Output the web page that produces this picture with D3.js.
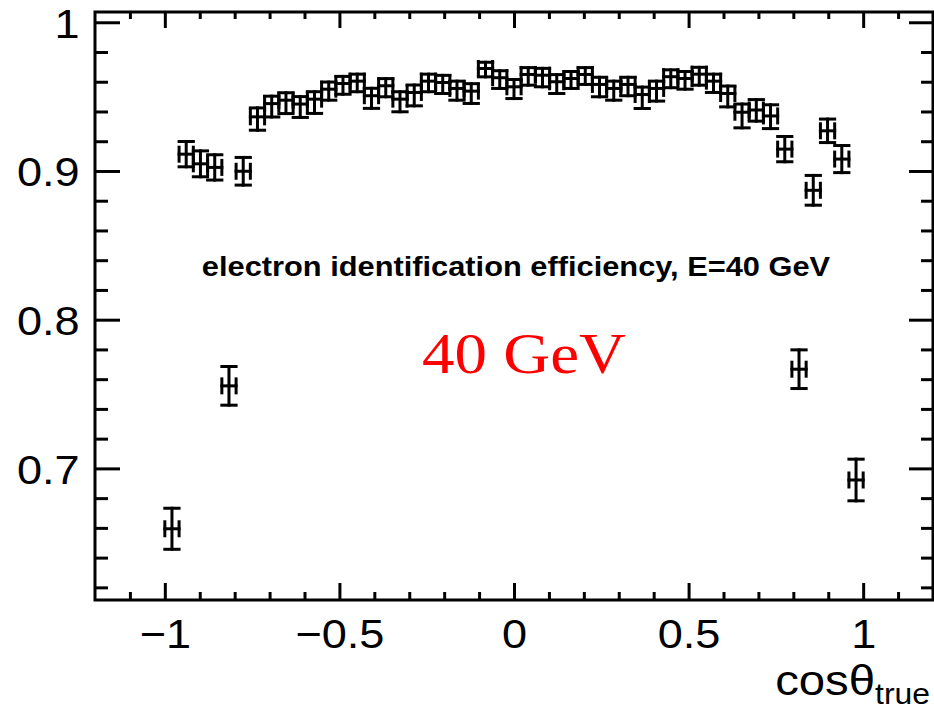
<!DOCTYPE html>
<html>
<head>
<meta charset="utf-8">
<script src="https://cdn.jsdelivr.net/npm/d3@7"></script>
<style>
  html, body { margin: 0; padding: 0; background: #fff; }
  svg { display: block; }
</style>
</head>
<body>
<svg id="chart" width="934" height="712"></svg>
<script>
// ---------------- data ----------------
const cosTheta = [
  -0.9796, -0.9388, -0.8980, -0.8571, -0.8163, -0.7755, -0.7347, -0.6939, -0.6531, -0.6122,
  -0.5714, -0.5306, -0.4898, -0.4490, -0.4082, -0.3673, -0.3265, -0.2857, -0.2449, -0.2041,
  -0.1633, -0.1224, -0.0816, -0.0408, 0.0000, 0.0408, 0.0816, 0.1224, 0.1633, 0.2041,
  0.2449, 0.2857, 0.3265, 0.3673, 0.4082, 0.4490, 0.4898, 0.5306, 0.5714, 0.6122,
  0.6531, 0.6939, 0.7347, 0.7755, 0.8163, 0.8571, 0.8980, 0.9388, 0.9796
];
const efficiency = [
  0.6594, 0.9113, 0.9048, 0.9024, 0.7555, 0.8998, 0.9364, 0.9453, 0.9476, 0.9450,
  0.9483, 0.9550, 0.9588, 0.9604, 0.9506, 0.9573, 0.9483, 0.9528, 0.9604, 0.9595,
  0.9555, 0.9537, 0.9689, 0.9627, 0.9566, 0.9649, 0.9644, 0.9600, 0.9622, 0.9649,
  0.9582, 0.9555, 0.9582, 0.9514, 0.9555, 0.9634, 0.9622, 0.9651, 0.9604, 0.9521,
  0.9395, 0.9410, 0.9370, 0.9147, 0.7667, 0.8870, 0.9270, 0.9080, 0.6922
];
const errLow = [
  0.0138, 0.0085, 0.0087, 0.0085, 0.0130, 0.0093, 0.0090, 0.0090, 0.0090, 0.0090,
  0.0096, 0.0074, 0.0072, 0.0071, 0.0085, 0.0074, 0.0085, 0.0090, 0.0071, 0.0074,
  0.0079, 0.0083, 0.0056, 0.0072, 0.0079, 0.0072, 0.0078, 0.0079, 0.0067, 0.0067,
  0.0083, 0.0079, 0.0076, 0.0094, 0.0085, 0.0074, 0.0072, 0.0074, 0.0076, 0.0090,
  0.0105, 0.0075, 0.0085, 0.0085, 0.0130, 0.0100, 0.0079, 0.0091, 0.0140
];
const errHigh = [
  0.0138, 0.0085, 0.0087, 0.0085, 0.0130, 0.0093, 0.0060, 0.0050, 0.0050, 0.0050,
  0.0050, 0.0048, 0.0048, 0.0047, 0.0050, 0.0048, 0.0050, 0.0050, 0.0047, 0.0048,
  0.0049, 0.0050, 0.0042, 0.0047, 0.0049, 0.0046, 0.0046, 0.0048, 0.0047, 0.0046,
  0.0048, 0.0049, 0.0048, 0.0050, 0.0049, 0.0046, 0.0047, 0.0046, 0.0047, 0.0050,
  0.0055, 0.0070, 0.0075, 0.0085, 0.0130, 0.0100, 0.0079, 0.0091, 0.0140
];
const binHalfWidth = 0.0204;

const xMajorTicks = [-1, -0.5, 0, 0.5, 1];
const xTickLabels = ["\u22121", "\u22120.5", "0", "0.5", "1"];
const yMajorTicks = [0.7, 0.8, 0.9, 1.0];
const yTickLabels = ["0.7", "0.8", "0.9", "1"];

const titleText = "electron identification efficiency, E=40 GeV";
const energyText = "40 GeV";

// ---------------- layout ----------------
const plotL = 95, plotR = 933, plotT = 12, plotB = 600;
const SX = 1.10; // horizontal text stretch
const SANS = "'Liberation Sans', Arial, Helvetica, sans-serif";
const SERIF = "'Liberation Serif', 'Times New Roman', Times, serif";

const svg = d3.select("#chart");

const x = d3.scaleLinear().domain([-1.2, 1.2]).range([plotL, plotR]);
const y = d3.scaleLinear().domain([0.6115, 1.0069]).range([plotB, plotT]);

const xMinor = d3.range(-11, 12).map(v => v / 10).filter(v => Math.abs(v * 2 - Math.round(v * 2)) > 1e-6);
const yMinor = d3.range(31, 51).map(v => v / 50).filter(v => Math.abs(v * 10 - Math.round(v * 10)) > 1e-6);

function styleAxis(g) {
  g.select(".domain").remove();
  g.selectAll(".tick line").attr("stroke", "#000").attr("stroke-width", 3);
}

const fsTick = 41;
svg.append("g")
  .attr("transform", `translate(0,${plotB})`)
  .call(d3.axisBottom(x).tickValues(xMajorTicks).tickSize(-17).tickSizeOuter(0)
        .tickPadding(19).tickFormat((d, i) => xTickLabels[i]))
  .call(styleAxis)
  .call(g => g.selectAll(".tick text")
      .style("font-family", SANS).style("font-size", fsTick + "px").attr("fill", "#000")
      .attr("transform", `scale(${SX},1)`));
svg.append("g")
  .attr("transform", `translate(0,${plotB})`)
  .call(d3.axisBottom(x).tickValues(xMinor).tickSize(-8).tickSizeOuter(0).tickFormat(""))
  .call(styleAxis);
svg.append("g")
  .attr("transform", `translate(0,${plotT})`)
  .call(d3.axisTop(x).tickValues(xMajorTicks).tickSize(-16).tickSizeOuter(0).tickFormat(""))
  .call(styleAxis);
svg.append("g")
  .attr("transform", `translate(0,${plotT})`)
  .call(d3.axisTop(x).tickValues(xMinor).tickSize(-7).tickSizeOuter(0).tickFormat(""))
  .call(styleAxis);

svg.append("g")
  .attr("transform", `translate(${plotL},0)`)
  .call(d3.axisLeft(y).tickValues(yMajorTicks).tickSize(-25).tickSizeOuter(0)
        .tickPadding(14).tickFormat((d, i) => yTickLabels[i]))
  .call(styleAxis)
  .call(g => g.selectAll(".tick text")
      .style("font-family", SANS).style("font-size", fsTick + "px").attr("fill", "#000")
      .attr("dy", "0.36em")
      .attr("transform", `scale(${SX},1)`));
svg.append("g")
  .attr("transform", `translate(${plotL},0)`)
  .call(d3.axisLeft(y).tickValues(yMinor).tickSize(-13).tickSizeOuter(0).tickFormat(""))
  .call(styleAxis);
svg.append("g")
  .attr("transform", `translate(${plotR},0)`)
  .call(d3.axisRight(y).tickValues(yMajorTicks).tickSize(-24).tickSizeOuter(0).tickFormat(""))
  .call(styleAxis);
svg.append("g")
  .attr("transform", `translate(${plotR},0)`)
  .call(d3.axisRight(y).tickValues(yMinor).tickSize(-12).tickSizeOuter(0).tickFormat(""))
  .call(styleAxis);

svg.append("rect")
  .attr("x", plotL).attr("y", plotT)
  .attr("width", plotR - plotL).attr("height", plotB - plotT)
  .attr("fill", "none").attr("stroke", "#000").attr("stroke-width", 3);

// ---------------- data points ----------------
const pts = cosTheta.map((c, i) => ({ c, v: efficiency[i], lo: errLow[i], hi: errHigh[i] }));
const capPx = 7;
const gp = svg.append("g").attr("stroke", "#000").attr("stroke-width", 3)
  .attr("stroke-linecap", "square").attr("fill", "none");
const pg = gp.selectAll("g.pt").data(pts).join("g").attr("class", "pt");
pg.append("line")
  .attr("x1", d => x(d.c)).attr("x2", d => x(d.c))
  .attr("y1", d => y(d.v + d.hi)).attr("y2", d => y(d.v - d.lo));
pg.append("line")
  .attr("x1", d => x(d.c - binHalfWidth)).attr("x2", d => x(d.c + binHalfWidth))
  .attr("y1", d => y(d.v + d.hi)).attr("y2", d => y(d.v + d.hi));
pg.append("line")
  .attr("x1", d => x(d.c - binHalfWidth)).attr("x2", d => x(d.c + binHalfWidth))
  .attr("y1", d => y(d.v - d.lo)).attr("y2", d => y(d.v - d.lo));
pg.append("line")
  .attr("x1", d => x(d.c - binHalfWidth)).attr("x2", d => x(d.c + binHalfWidth))
  .attr("y1", d => y(d.v)).attr("y2", d => y(d.v));
pg.append("line")
  .attr("x1", d => x(d.c - binHalfWidth)).attr("x2", d => x(d.c - binHalfWidth))
  .attr("y1", d => y(d.v) - capPx).attr("y2", d => y(d.v) + capPx);
pg.append("line")
  .attr("x1", d => x(d.c + binHalfWidth)).attr("x2", d => x(d.c + binHalfWidth))
  .attr("y1", d => y(d.v) - capPx).attr("y2", d => y(d.v) + capPx);

// ---------------- texts ----------------
svg.append("text")
  .attr("transform", `translate(516,276) scale(1.12,1)`)
  .attr("text-anchor", "middle")
  .style("font-family", SANS)
  .style("font-weight", "bold")
  .style("font-size", "27.5px")
  .attr("fill", "#000")
  .text(titleText);

svg.append("text")
  .attr("transform", `translate(524,373) scale(1.12,1)`)
  .attr("text-anchor", "middle")
  .style("font-family", SERIF)
  .style("font-size", "58px")
  .attr("fill", "#ff0000")
  .text(energyText);

const xt = svg.append("text")
  .attr("transform", `translate(930,695) scale(${SX},1)`)
  .attr("text-anchor", "end")
  .style("font-family", SANS)
  .style("font-size", "43px")
  .attr("fill", "#000");
xt.append("tspan").text("cos\u03B8");
xt.append("tspan").style("font-size", "29px").attr("dy", 9).text("true");
</script>
</body>
</html>
